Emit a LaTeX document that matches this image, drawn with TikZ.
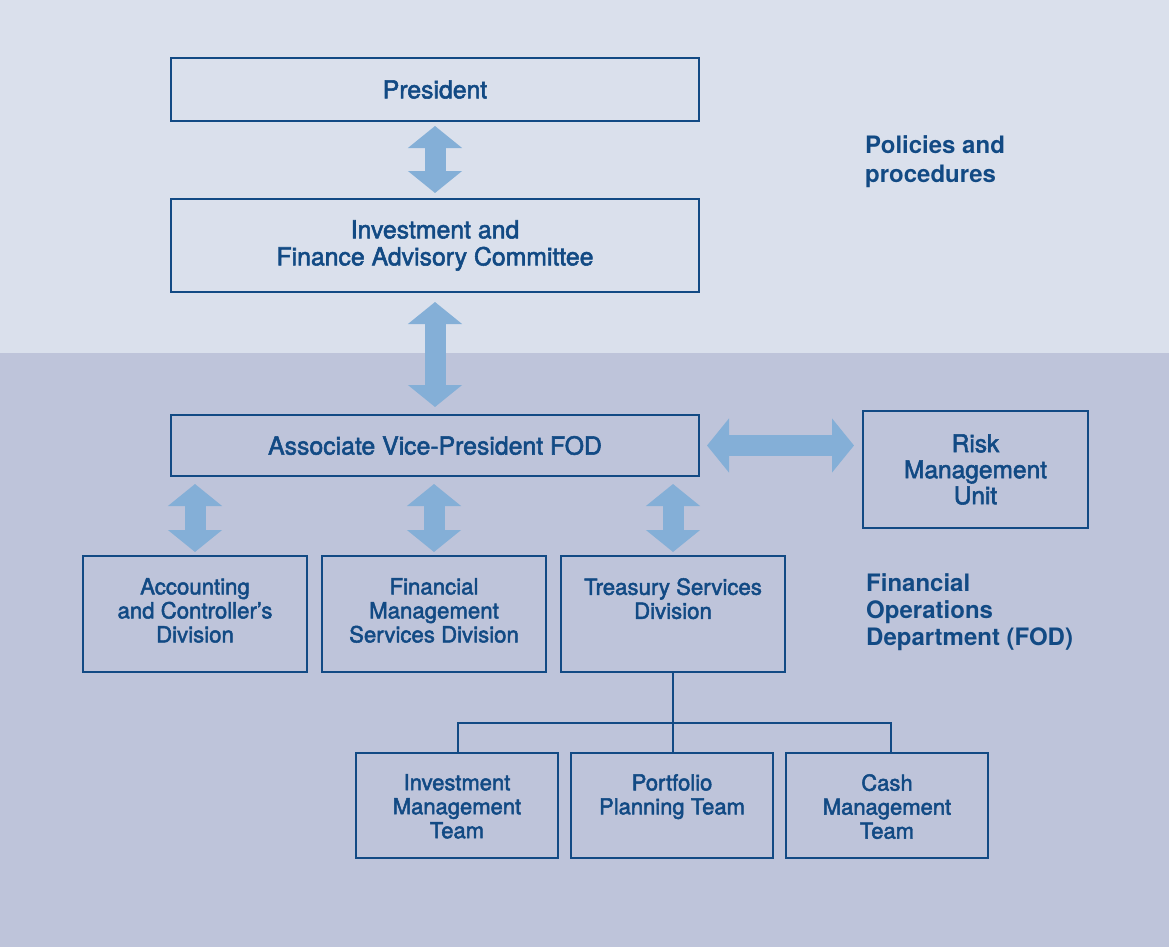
\documentclass[tikz,border=0pt]{standalone}
\usepackage{fontspec}
\setmainfont{TeX Gyre Heros}
\newfontfamily\medfont[FakeBold=2.2]{TeX Gyre Heros}
\usetikzlibrary{arrows.meta}
\definecolor{bgtop}{HTML}{DAE0EC}
\definecolor{bgbot}{HTML}{BEC4DA}
\definecolor{navy}{HTML}{124A84}
\definecolor{arrowblue}{HTML}{84AFD7}
\tikzset{
  box/.style={draw=navy, line width=2pt, rectangle, inner sep=0pt, text=navy, align=center, font=\medfont\fontsize{24.8}{27}\selectfont},
  boxtxt/.style={text=navy, align=center, inner sep=0pt, anchor=north},
  divtxt/.style={boxtxt, font=\medfont\fontsize{22.2}{24}\selectfont},
  teamtxt/.style={boxtxt, font=\medfont\fontsize{22}{24}\selectfont},
  sidelabel/.style={text=navy, align=left, inner sep=0pt, anchor=north west, font=\bfseries\fontsize{24}{29}\selectfont},
  bigarrow/.style={arrowblue, line width=21pt, {Triangle[length=22pt,width=53pt]}-{Triangle[length=22pt,width=53pt]}},
  treeline/.style={navy, line width=1.1pt}
}
\begin{document}
\begin{tikzpicture}[x=1pt,y=-1pt]
\useasboundingbox (0,0) rectangle (1169,947);
\fill[bgtop] (0,0) rectangle (1169,353);
\fill[bgbot] (0,353) rectangle (1169,947);

% boxes
\node[box, minimum width=528pt, minimum height=63pt] (pres) at (435,89.5) {President};
\node[box, minimum width=528pt, minimum height=93pt] (ifac) at (435,245.5) {Investment and\\Finance Advisory Committee};
\node[box, minimum width=528pt, minimum height=61pt] (avp) at (435,445.5) {Associate Vice-President FOD};
\node[box, minimum width=225pt, minimum height=117pt, font=\medfont\fontsize{24.5}{26}\selectfont] (risk) at (975.5,469.5) {Risk\\Management\\Unit};

\node[box, minimum width=224pt, minimum height=116pt] (acc) at (195,614) {};
\node[box, minimum width=224pt, minimum height=116pt] (fms) at (434,614) {};
\node[box, minimum width=224pt, minimum height=116pt] (tsd) at (673,614) {};
\node[divtxt] (acct) at ([yshift=-23pt]acc.north) {Accounting\\and Controller’s\\Division};
\node[divtxt] (fmst) at ([yshift=-23pt]fms.north) {Financial\\Management\\Services Division};
\node[divtxt] (tsdt) at ([yshift=-23pt]tsd.north) {Treasury Services\\Division};

\node[box, minimum width=202pt, minimum height=105pt] (imt) at (457,805.5) {};
\node[box, minimum width=202pt, minimum height=105pt] (port) at (672,805.5) {};
\node[box, minimum width=202pt, minimum height=105pt] (cash) at (887,805.5) {};
\node[teamtxt] (imtt) at ([yshift=-22pt]imt.north) {Investment\\Management\\Team};
\node[teamtxt] (portt) at ([yshift=-22pt]port.north) {Portfolio\\Planning Team};
\node[teamtxt] (casht) at ([yshift=-22pt]cash.north) {Cash\\Management\\Team};

% side labels
\node[sidelabel] (pol) at (865,135) {Policies and\\procedures};
\node[sidelabel, font=\bfseries\fontsize{24}{27}\selectfont] (fod) at (866,573) {Financial\\Operations\\Department (FOD)};

% double arrows
\draw[bigarrow, shorten <=4pt, shorten >=5pt] (pres.south) -- (ifac.north);
\draw[bigarrow, shorten <=9pt, shorten >=7pt] (ifac.south) -- (avp.north);
\draw[bigarrow, shorten <=7pt, shorten >=3pt] (avp.south -| acc.north) -- (acc.north);
\draw[bigarrow, shorten <=7pt, shorten >=3pt] (avp.south -| fms.north) -- (fms.north);
\draw[bigarrow, shorten <=7pt, shorten >=3pt] (avp.south -| tsd.north) -- (tsd.north);
\draw[bigarrow, shorten <=7pt, shorten >=8pt] (avp.east) -- (avp.east -| risk.west);

% tree
\coordinate (busL) at (458,723);
\coordinate (busR) at (891,723);
\draw[treeline] (tsd.south) -- (tsd.south |- port.north);
\draw[treeline] (busL |- imt.north) -- (busL) -- (busR) -- (busR |- cash.north);
\end{tikzpicture}
\end{document}
